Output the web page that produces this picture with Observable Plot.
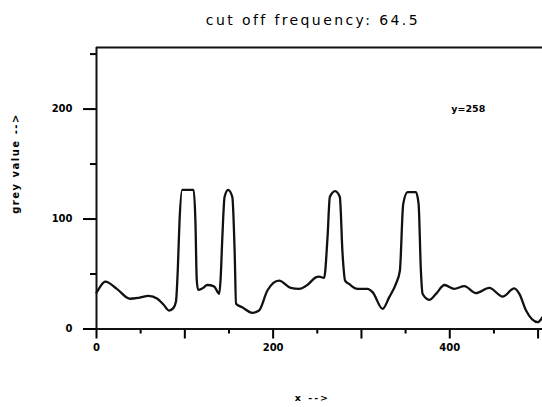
<!DOCTYPE html>
<html>
<head>
<meta charset="utf-8">
<script src="https://cdn.jsdelivr.net/npm/d3@7"></script>
<script src="https://cdn.jsdelivr.net/npm/@observablehq/plot@0.6"></script>
<style>
  html, body { margin: 0; padding: 0; background: #fff; }
  #chart svg { display: block; }
</style>
</head>
<body>
<div id="chart"></div>
<script>
// Profile position (x) along the scan line
const xPos = [0, 3, 10, 23, 38, 48, 59, 69, 76, 82, 87, 90, 92, 94, 97, 110, 112, 113.5, 115, 120,
  125.5, 133, 139, 140.5, 142.5, 145, 149, 153.8, 156.5, 158, 165, 176.5, 184, 193.5, 206.7, 220,
  229.4, 239, 248.3, 252, 257.7, 261.6, 264.2, 270.2, 275.5, 278.6, 281.5, 286, 295.5, 307, 312.6,
  324, 331.5, 339, 343.5, 347.3, 352.3, 361.7, 364.7, 367.3, 369.2, 376.8, 384.4, 394, 405, 416.5,
  429.7, 444.8, 460, 473, 478.8, 486.4, 499.6, 505];
// Grey value at each position
const greyValue = [33, 37, 43, 36.5, 27.5, 28.4, 30.2, 27.5, 22, 16.8, 19, 25, 53, 98, 126.5, 126.5, 98, 45, 35.6, 37,
  40, 38.8, 32, 45, 83.5, 120, 126.5, 120, 68, 23, 19.8, 14.7, 16.8, 35, 44, 37.4,
  36.5, 40.2, 47, 47.6, 46.5, 83.5, 120, 125.3, 120, 68.4, 44, 41, 36.5, 36.5, 33.5,
  18.3, 29, 41, 53, 113.8, 124.4, 124.4, 113.8, 53, 32, 26.5, 32, 40, 36.5, 39,
  32.6, 37.4, 29.5, 37, 32, 16.8, 6.2, 10.7];

const xMajorTicks = [0, 200, 400];
const xMidTicks = [100, 300, 500];
const xMinorTicks = [50, 150, 250, 350, 450];
const yMajorTicks = [0, 100, 200];
const yMinorTicks = [50, 150, 250];

const titleText = "cut off frequency: 64.5";
const xLabel = "x -->";
const yLabel = "grey value -->";
const annotation = "y=258";

const data = xPos.map((x, i) => ({x, g: greyValue[i]}));

const chart = Plot.plot({
  width: 542,
  height: 407,
  marginLeft: 96,
  marginRight: 0,
  marginTop: 47,
  marginBottom: 78.5,
  style: {background: "#fff", color: "#000", fontFamily: "DejaVu Sans, sans-serif"},
  x: {domain: [0, 505]},
  y: {domain: [0, 256]},
  marks: [
    Plot.ruleY([256], {stroke: "#111", strokeWidth: 2}),
    Plot.axisY(yMajorTicks, {tickSize: 13, tickPadding: 11, fontSize: 10, fontWeight: "bold", strokeWidth: 2, label: null}),
    Plot.axisY(yMinorTicks, {tickSize: 6, tickFormat: () => "", strokeWidth: 2, label: null}),
    Plot.axisX(xMajorTicks, {tickSize: 10, tickPadding: 5, fontSize: 10, fontWeight: "bold", strokeWidth: 2, label: null}),
    Plot.axisX(xMidTicks, {tickSize: 10, tickFormat: () => "", strokeWidth: 2, label: null}),
    Plot.axisX(xMinorTicks, {tickSize: 5, tickFormat: () => "", strokeWidth: 2, label: null}),
    Plot.ruleX([0], {stroke: "#111", strokeWidth: 2}),
    Plot.ruleY([0], {stroke: "#111", strokeWidth: 2}),
    Plot.line(data, {x: "x", y: "g", curve: "monotone-x", stroke: "#111", strokeWidth: 2.3}),
    Plot.text([annotation], {x: () => 421, y: () => 200, text: d => d, fontSize: 9.5, fontWeight: "bold"}),
    Plot.text([titleText], {x: () => 245, y: () => 280.5, text: d => d, fontSize: 14, textAnchor: "middle", lineAnchor: "middle"}),
    Plot.text([xLabel], {x: () => 244.5, y: () => -62.3, text: d => d, fontSize: 9.5, fontWeight: "bold", lineAnchor: "middle"}),
    Plot.text([yLabel], {x: () => -91.7, y: () => 150.5, rotate: -90, text: d => d, fontSize: 10, fontWeight: "bold", lineAnchor: "middle"})
  ]
});
d3.select(chart).selectAll("text").each(function() {
  const t = this.textContent;
  if (t === titleText) this.style.letterSpacing = "2.4px";
  if (t === yLabel) this.style.letterSpacing = "1.5px";
  if (t === xLabel) this.style.letterSpacing = "2px";
});
document.getElementById("chart").appendChild(chart);
</script>
</body>
</html>
